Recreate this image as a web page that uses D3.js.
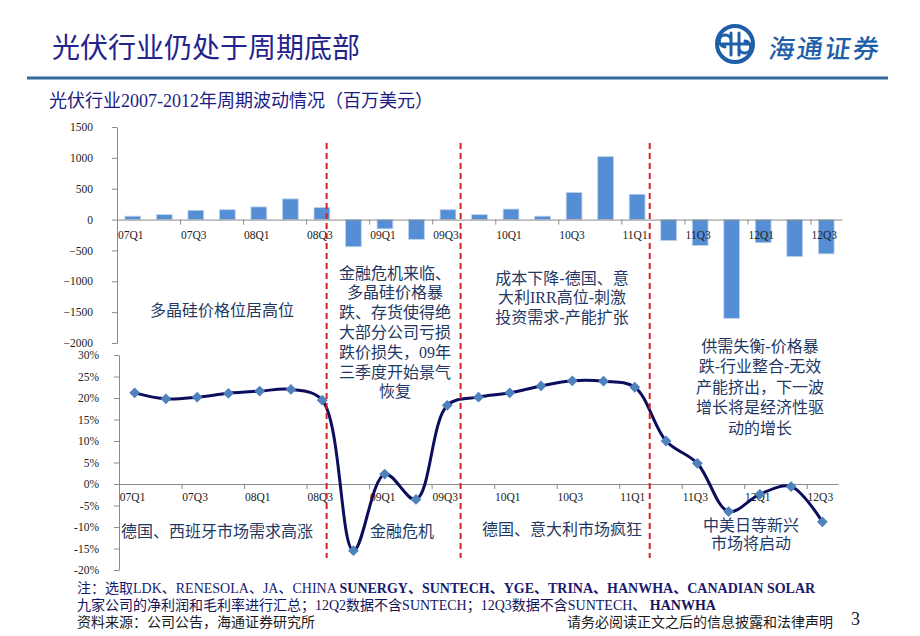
<!DOCTYPE html>
<html>
<head>
<meta charset="utf-8">
<script src="https://cdn.jsdelivr.net/npm/d3@7"></script>
<style>
  body { margin: 0; background: #fff; }
  svg { display: block; }
</style>
</head>
<body>
<svg id="chart" width="920" height="636"></svg>
<script>
// Quarters 07Q1 .. 12Q3
const quarters = ["07Q1", "07Q2", "07Q3", "07Q4", "08Q1", "08Q2", "08Q3", "08Q4",
  "09Q1", "09Q2", "09Q3", "09Q4", "10Q1", "10Q2", "10Q3", "10Q4",
  "11Q1", "11Q2", "11Q3", "11Q4", "12Q1", "12Q2", "12Q3"]

// Net profit, million USD
const netProfit = [55, 80, 150, 160, 205, 335, 195, -440,
  -150, -320, 160, 80, 170, 55, 440, 1020,
  410, -340, -420, -1600, -375, -600, -555]

// Gross margin, %
const grossMargin = [21.2, 19.8, 20.2, 21.1, 21.6, 22.0, 19.5, -15.5,
  2.3, -3.6, 18.3, 20.2, 21.2, 22.8, 24.0, 23.9,
  22.5, 10.0, 4.8, -6.4, -2.4, -0.6, -8.8]

const profitTicks = [1500, 1000, 500, 0, -500, -1000, -1500, -2000]
const marginTicks = [30, 25, 20, 15, 10, 5, 0, -5, -10, -15, -20]
const labelQuarters = quarters.filter((q, i) => i % 2 === 0)

// Period breaks (in quarters counted from the start of 07Q1)
const periodBreaks = [6.65, 10.9, 16.9]

const noteHighPrice = ["多晶硅价格位居高位"]
const noteCrisis = ["金融危机来临、", "多晶硅价格暴", "跌、存货使得绝", "大部分公司亏损", "跌价损失，09年", "三季度开始景气", "恢复"]
const noteExpand = ["成本下降-德国、意", "大利IRR高位-刺激", "投资需求-产能扩张"]
const noteImbalance = ["供需失衡-价格暴", "跌-行业整合-无效", "产能挤出，下一波", "增长将是经济性驱", "动的增长"]
const noteDemand = ["德国、西班牙市场需求高涨"]
const noteCrisis2 = ["金融危机"]
const noteCrazy = ["德国、意大利市场疯狂"]
const noteEmerging = ["中美日等新兴", "市场将启动"]

const SERIF = "'Liberation Serif', 'Noto Sans CJK SC', serif"
const CJK = "'Noto Sans CJK SC', sans-serif"
const NAVY = "#1f3864"
const AXIS = "#8a8a8a"

const svg = d3.select("#chart")

// ---- header ----
svg.append("text")
    .attr("x", 52)
    .attr("y", 46)
    .attr("dominant-baseline", "central")
    .attr("font-family", CJK)
    .attr("font-size", 28)
    .attr("fill", "#24248c")
    .text("光伏行业仍处于周期底部")

svg.append("line")
    .attr("x1", 27).attr("x2", 888)
    .attr("y1", 78).attr("y2", 78)
    .attr("stroke", "#336a9c")
    .attr("stroke-width", 3)

// logo
const logo = svg.append("g").attr("transform", "translate(735,44)")
logo.append("circle")
    .attr("r", 18)
    .attr("fill", "none")
    .attr("stroke", "#1f5fa8")
    .attr("stroke-width", 4)
logo.append("path")
    .attr("d", "M-13,0 H13 M-4,-11 V11 M4,-11 V11 M-4,-5 A6,6 0 1,0 -10,3 M4,5 A6,6 0 1,0 10,-3")
    .attr("fill", "none")
    .attr("stroke", "#1f5fa8")
    .attr("stroke-width", 3)
    .attr("stroke-linecap", "round")
svg.append("text")
    .attr("x", 770)
    .attr("y", 47)
    .attr("dominant-baseline", "central")
    .attr("transform", "skewX(-8) translate(6,0)")
    .attr("font-family", CJK)
    .attr("font-weight", 500)
    .attr("font-size", 26)
    .attr("letter-spacing", 2)
    .attr("fill", "#1f5fa8")
    .text("海通证券")

svg.append("text")
    .attr("x", 49)
    .attr("y", 101)
    .attr("dominant-baseline", "central")
    .attr("font-family", SERIF)
    .attr("font-size", 18)
    .attr("fill", "#1c1c84")
    .text("光伏行业2007-2012年周期波动情况（百万美元）")

// ---- top chart: net profit bars ----
const topBox = {left: 117, right: 842, top: 127, bottom: 343}
const xTop = d3.scaleBand().domain(quarters).range([topBox.left, topBox.right])
const yTop = d3.scaleLinear().domain([-2000, 1500]).range([topBox.bottom, topBox.top])
const bwTop = xTop.bandwidth()

svg.append("g")
    .selectAll("rect")
    .data(netProfit)
    .join("rect")
    .attr("x", (d, i) => xTop(quarters[i]) + bwTop * 0.25)
    .attr("width", bwTop * 0.5)
    .attr("y", d => yTop(Math.max(0, d)))
    .attr("height", d => Math.abs(yTop(d) - yTop(0)))
    .attr("fill", "#558ed5")
    .attr("stroke", "#c0d3ec")
    .attr("stroke-width", 0.8)

// ---- bottom chart: gross margin line ----
const botBox = {left: 119, right: 838, top: 355, bottom: 570}
const xBot = d3.scaleBand().domain(quarters).range([botBox.left, botBox.right])
const yBot = d3.scaleLinear().domain([-20, 30]).range([botBox.bottom, botBox.top])
const bwBot = xBot.bandwidth()

function styleAxis(g, size) {
  g.attr("font-family", SERIF).attr("font-size", size)
  g.selectAll("path, line").attr("stroke", AXIS)
  g.selectAll("text").attr("fill", "#222")
}

// y axes
svg.append("g")
    .attr("transform", `translate(${topBox.left},0)`)
    .call(d3.axisLeft(yTop).tickValues(profitTicks).tickSize(5).tickPadding(19).tickSizeOuter(0)
      .tickFormat(d3.format("d")))
    .call(g => styleAxis(g, 11.5))

svg.append("g")
    .attr("transform", `translate(${botBox.left},0)`)
    .call(d3.axisLeft(yBot).tickValues(marginTicks).tickSize(5).tickPadding(15).tickSizeOuter(0)
      .tickFormat(d => d + "%"))
    .call(g => styleAxis(g, 11.5))

// category axes: tick marks every two quarters, labels centred on the quarter
function categoryAxis(xBand, box, y0, pad) {
  const xIdx = d3.scaleLinear().domain([0, quarters.length]).range([box.left, box.right])
  svg.append("g")
      .attr("transform", `translate(0,${y0})`)
      .call(d3.axisBottom(xIdx).tickValues(d3.range(0, quarters.length + 1, 2))
        .tickSize(5).tickSizeOuter(0).tickFormat(""))
      .call(g => styleAxis(g, 11.5))
  svg.append("g")
      .attr("transform", `translate(-2,${y0})`)
      .call(d3.axisBottom(xBand).tickValues(labelQuarters).tickSize(0).tickPadding(pad))
      .call(g => g.select(".domain").remove())
      .call(g => styleAxis(g, 11.5))
}
categoryAxis(xTop, topBox, yTop(0), 11)
categoryAxis(xBot, botBox, yBot(0), 9)

const line = d3.line()
    .x((d, i) => xBot(quarters[i]) + bwBot / 2)
    .y(d => yBot(d))
    .curve(d3.curveCatmullRom.alpha(0.5))

svg.append("path")
    .datum(grossMargin)
    .attr("d", line)
    .attr("fill", "none")
    .attr("stroke", "#0d0d5e")
    .attr("stroke-width", 3)

svg.append("g")
    .selectAll("path")
    .data(grossMargin)
    .join("path")
    .attr("d", d3.symbol(d3.symbolSquare, 58))
    .attr("transform", (d, i) => `translate(${xBot(quarters[i]) + bwBot / 2},${yBot(d)}) rotate(45)`)
    .attr("fill", "#4f81bd")

// ---- period break lines ----
const xBreak = d3.scaleLinear().domain([0, quarters.length]).range([topBox.left, topBox.right])
svg.append("g")
    .selectAll("line")
    .data(periodBreaks)
    .join("line")
    .attr("x1", d => xBreak(d))
    .attr("x2", d => xBreak(d))
    .attr("y1", 143)
    .attr("y2", 558)
    .attr("stroke", "#d42027")
    .attr("stroke-width", 2)
    .attr("stroke-dasharray", "6,4")

// ---- annotations ----
function note(lines, x, y, gap) {
  svg.append("text")
      .attr("font-family", SERIF)
      .attr("font-size", 16)
      .attr("fill", NAVY)
      .attr("text-anchor", "middle")
      .selectAll("tspan")
      .data(lines)
      .join("tspan")
      .attr("x", x)
      .attr("y", (d, i) => y + i * gap)
      .attr("dominant-baseline", "central")
      .text(d => d)
}
note(noteHighPrice, 222, 310, 20)
note(noteCrisis, 395, 273, 19.8)
note(noteExpand, 562, 278, 19.5)
note(noteImbalance, 760, 346, 20.5)
note(noteDemand, 217, 531, 20)
note(noteCrisis2, 402, 531, 20)
note(noteCrazy, 562, 529, 20)
note(noteEmerging, 751, 525, 18.5)

// ---- footer ----
const foot1 = svg.append("text")
    .attr("x", 77).attr("y", 588)
    .attr("dominant-baseline", "central")
    .attr("font-family", SERIF)
    .attr("font-size", 14)
    .attr("fill", "#1a1a6e")
foot1.append("tspan").text("注：选取LDK、RENESOLA、JA、CHINA ")
foot1.append("tspan").attr("font-weight", "bold").text("SUNERGY、SUNTECH、YGE、TRINA、HANWHA、CANADIAN  SOLAR")

const foot2 = svg.append("text")
    .attr("x", 77).attr("y", 605)
    .attr("dominant-baseline", "central")
    .attr("font-family", SERIF)
    .attr("font-size", 14)
    .attr("fill", "#14145a")
foot2.append("tspan").text("九家公司的净利润和毛利率进行汇总；12Q2数据不含SUNTECH；12Q3数据不含SUNTECH、 ")
foot2.append("tspan").attr("font-weight", "bold").text("HANWHA")

svg.append("text")
    .attr("x", 77).attr("y", 622)
    .attr("dominant-baseline", "central")
    .attr("font-family", SERIF)
    .attr("font-size", 14)
    .attr("fill", "#1a1a1a")
    .text("资料来源：公司公告，海通证券研究所")

svg.append("text")
    .attr("x", 567).attr("y", 622)
    .attr("dominant-baseline", "central")
    .attr("font-family", SERIF)
    .attr("font-size", 14)
    .attr("fill", "#1a1a1a")
    .text("请务必阅读正文之后的信息披露和法律声明")

svg.append("text")
    .attr("x", 851).attr("y", 619)
    .attr("dominant-baseline", "central")
    .attr("font-family", SERIF)
    .attr("font-size", 18)
    .attr("fill", "#1a1a1a")
    .text("3")
</script>
</body>
</html>
